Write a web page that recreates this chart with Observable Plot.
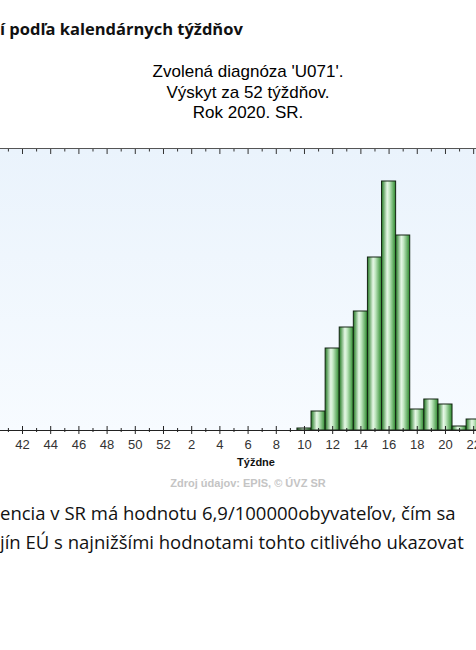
<!DOCTYPE html>
<html>
<head>
<meta charset="utf-8">
<script src="https://cdn.jsdelivr.net/npm/d3@7"></script>
<script src="https://cdn.jsdelivr.net/npm/@observablehq/plot@0.6"></script>
<style>
  html, body { margin: 0; padding: 0; background: #fff; overflow: hidden; }
  body { width: 476px; height: 650px; position: relative; }
  .t { position: absolute; white-space: nowrap; }
  #head { left: 0; top: 18.6px; font: bold 16.5px/20px "Open Sans", sans-serif; color: #111; }
  #title { left: 0; width: 496px; top: 62px; text-align: center; font: 17px/20.5px "Liberation Sans", Arial, sans-serif; color: #000; }
  #chart { position: absolute; left: -10px; top: 146px; width: 496px; }
  #chart svg { max-width: none; }
  #xlab { left: 156px; width: 200px; top: 456px; text-align: center; font: bold 11px/13px "Liberation Sans", Arial, sans-serif; color: #111; }
  #src { left: 98px; width: 300px; top: 477px; text-align: center; font: bold 11px/13px "Liberation Sans", Arial, sans-serif; color: #c4c4c4; }
  #body { left: 0; top: 498px; font: 18.5px/29px "Open Sans", sans-serif; color: #111; }
</style>
</head>
<body>
<div id="head" class="t">í podľa kalendárnych týždňov</div>
<div id="title" class="t">Zvolená diagnóza 'U071'.<br>Výskyt za 52 týždňov.<br>Rok 2020. SR.</div>
<div id="chart"></div>
<div id="xlab" class="t">Týždne</div>
<div id="src" class="t">Zdroj údajov: EPIS, © ÚVZ SR</div>
<div id="body" class="t">encia v SR má hodnotu 6,9/100000obyvateľov, čím sa<br>jín EÚ s najnižšími hodnotami tohto citlivého ukazovat</div>
<script>
// kalendárne týždne (koniec 2019 -> 2020) a počty prípadov
const weeks = [40, 41, 42, 43, 44, 45, 46, 47, 48, 49, 50, 51, 52,
  1, 2, 3, 4, 5, 6, 7, 8, 9, 10, 11, 12, 13, 14, 15, 16, 17, 18, 19, 20, 21, 22]
const cases = [0, 0, 0, 0, 0, 0, 0, 0, 0, 0, 0, 0, 0,
  0, 0, 0, 0, 0, 0, 0, 0, 0, 2, 19, 82, 103, 119, 173, 249, 195, 21, 31, 26, 4, 11]

const data = weeks.map((w, i) => ({i, week: w, cases: cases[i]}))
const major = data.filter(d => d.week % 2 === 0).map(d => d.i)
const minor = data.filter(d => d.week % 2 === 1).map(d => d.i)

let chart = Plot.plot({
  width: 496,
  height: 314,
  marginTop: 2,
  marginBottom: 30,
  marginLeft: 0,
  marginRight: 0,
  style: {background: "transparent", fontFamily: "'Liberation Sans', Arial, sans-serif", fontSize: "13px", color: "#333"},
  x: {domain: [-0.27, 34.91]},
  y: {domain: [0, 282], axis: null},
  marks: [
    Plot.frame({fill: "url(#bg)", stroke: "#555"}),
    Plot.rectY(data.filter(d => d.cases > 0), {
      x1: d => d.i - 0.5, x2: d => d.i + 0.5, y: "cases",
      fill: "url(#bar)", stroke: "#142414", strokeWidth: 1
    }),
    Plot.ruleY([0], {stroke: "#222"}),
    // ticks hore (dovnútra) a dole (cez os)
    Plot.axisX(major, {anchor: "top", tickSize: 5, dy: 5, fill: "none", label: null, stroke: "#333"}),
    Plot.axisX(minor, {anchor: "top", tickSize: 2.5, dy: 2.5, fill: "none", label: null, stroke: "#333"}),
    Plot.axisX(major, {anchor: "bottom", tickSize: 8, dy: -4, fill: "none", label: null, stroke: "#222"}),
    Plot.axisX(minor, {anchor: "bottom", tickSize: 4, dy: -2, fill: "none", label: null, stroke: "#222"}),
    Plot.axisX(major.filter(i => i > 0), {anchor: "bottom", tickSize: 0, tickPadding: 9, tickFormat: i => weeks[i], label: null, fill: "#333"})
  ]
})

// prechody farieb: pozadie grafu a "valcové" stĺpce
const defs = d3.select(chart).insert("defs", ":first-child")
const bg = defs.append("linearGradient").attr("id", "bg").attr("x1", 0).attr("y1", 0).attr("x2", 0).attr("y2", 1)
bg.append("stop").attr("offset", "0%").attr("stop-color", "#eaf3fc")
bg.append("stop").attr("offset", "100%").attr("stop-color", "#f7fbff")
const bar = defs.append("linearGradient").attr("id", "bar").attr("x1", 0).attr("y1", 0).attr("x2", 1).attr("y2", 0)
bar.append("stop").attr("offset", "0%").attr("stop-color", "#237a23")
bar.append("stop").attr("offset", "40%").attr("stop-color", "#e6f7e6")
bar.append("stop").attr("offset", "55%").attr("stop-color", "#c4e9c4")
bar.append("stop").attr("offset", "100%").attr("stop-color", "#2c8a2c")

d3.select('#chart').append(() => chart)
</script>
</body>
</html>
